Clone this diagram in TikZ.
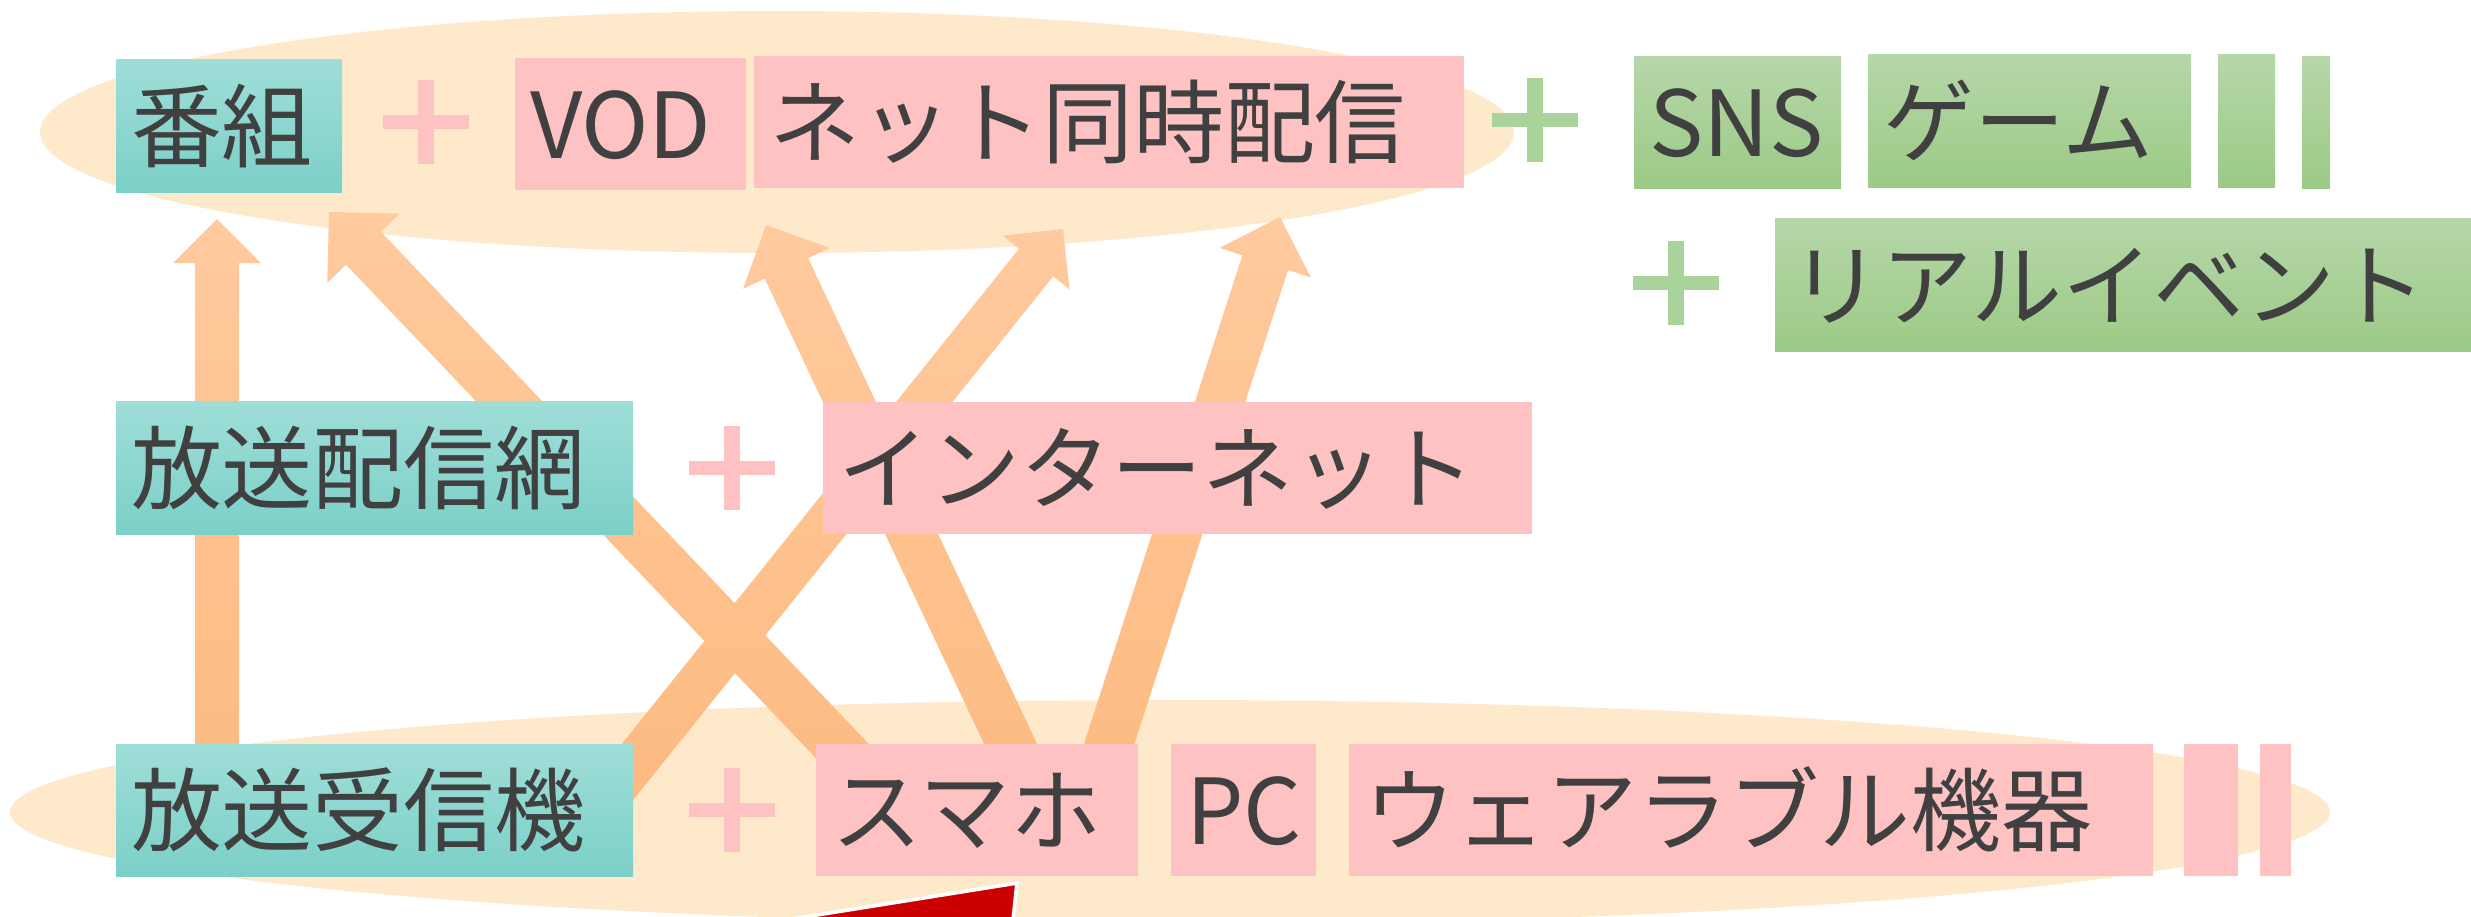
\documentclass[tikz,border=0pt]{standalone}
\usepackage{fontspec}
\setmainfont{Noto Sans CJK JP}
\usetikzlibrary{calc}
\definecolor{ell}{HTML}{FFE9CB}
\definecolor{tealA}{HTML}{9FDED8}
\definecolor{tealB}{HTML}{7BD0C8}
\definecolor{pinkbox}{HTML}{FFC2C2}
\definecolor{greenA}{HTML}{B6D7A9}
\definecolor{greenB}{HTML}{9CCA86}
\definecolor{plusgreen}{HTML}{A9D39A}
\definecolor{arrA}{HTML}{FFCA9E}
\definecolor{arrB}{HTML}{FDBA80}
\definecolor{txt}{HTML}{404040}
\definecolor{redshape}{HTML}{CC0000}
\pgfdeclarelayer{bg}\pgfdeclarelayer{mid}\pgfsetlayers{bg,mid,main}
% start, tip, half shaft, half head, head length
\newcommand\blockarrow[5]{%
  \coordinate (#1H) at ($(#2)!#5!(#1)$);
  \shade[arrowstyle]
    ($(#1)!#3!90:(#2)$) --
    ($(#1H)!#3!-90:(#1)$) --
    ($(#1H)!#4!-90:(#1)$) --
    (#2) --
    ($(#1H)!#4!90:(#1)$) --
    ($(#1H)!#3!90:(#1)$) --
    ($(#1)!#3!-90:(#2)$) -- cycle;}
% name, x1, y1, x2, y2, style, text
\newcommand\bx[7]{%
  \node[#6, anchor=north west, minimum width={(#4-#2)*0.3pt},
        minimum height={(#5-#3)*0.3pt}, text width={(#4-#2-30)*0.3pt}] (#1) at (#2,#3) {#7};}
\newcommand\barnode[6]{%
  \node[#6, anchor=north west, inner sep=0pt, minimum width={(#4-#2)*0.3pt},
        minimum height={(#5-#3)*0.3pt}] (#1) at (#2,#3) {};}
\newcommand\plussign[3]{%
  \fill[#3] (#1-8,#2-42) rectangle (#1+8,#2+42);
  \fill[#3] (#1-43,#2-7) rectangle (#1+43,#2+7);}
\begin{document}
\begin{tikzpicture}[x=0.3pt,y=-0.3pt,
  arrowstyle/.style={top color=arrA, bottom color=arrB},
  boxbase/.style={inner xsep=4.5pt, inner ysep=0pt, outer sep=0pt, align=left,
     text=txt, font=\fontsize{27.3pt}{32pt}\selectfont,
     text height=24pt, text depth=3.3pt},
  tealbox/.style={boxbase, top color=tealA, bottom color=tealB},
  pinkbx/.style={boxbase, fill=pinkbox},
  greenbox/.style={boxbase, top color=greenA, bottom color=greenB},
  pinkbarst/.style={fill=pinkbox, outer sep=0pt},
  greenbarst/.style={top color=greenA, bottom color=greenB, outer sep=0pt}]
\useasboundingbox (0,0) rectangle (2471,916);
\begin{pgfonlayer}{bg}
  \fill[ell] (777,132) ellipse [x radius=221.1pt, y radius=36.3pt];
  \fill[ell] (1170,812) ellipse [x radius=348pt, y radius=33.6pt];
\end{pgfonlayer}

% boxes
\bx{bangumi}{116}{59}{342}{192}{tealbox}{番組}
\bx{haishinmo}{116}{401}{633}{534}{tealbox}{放送配信網}
\bx{jushinki}{116}{744}{633}{876}{tealbox}{放送受信機}
\bx{vod}{515}{58}{746}{190}{pinkbx}{VOD}
\bx{simul}{754}{56}{1464}{188}{pinkbx}{ネット同時配信}
\bx{inet}{823}{402}{1532}{534}{pinkbx}{インターネット}
\bx{sumaho}{816}{744}{1138}{876}{pinkbx}{スマホ}
\bx{pc}{1171}{744}{1316}{876}{pinkbx}{PC}
\bx{wear}{1349}{744}{2153}{876}{pinkbx}{ウェアラブル機器}
\barnode{pbarA}{2184}{744}{2238}{876}{pinkbarst}
\barnode{pbarB}{2260}{744}{2291}{876}{pinkbarst}
\bx{sns}{1634}{56}{1841}{188}{greenbox}{SNS}
\bx{game}{1868}{54}{2191}{187}{greenbox}{ゲーム}
\barnode{gbarA}{2218}{54}{2275}{187}{greenbarst}
\barnode{gbarB}{2302}{56}{2330}{188}{greenbarst}
\bx{real}{1775}{218}{2471}{351}{greenbox}{リアルイベント}

% arrows
\coordinate (a1s) at (217,800); \coordinate (a1t) at (217,219);
\coordinate (a2s) at (889,800); \coordinate (a2t) at (329,212);
\coordinate (a3s) at (605,800); \coordinate (a3t) at (1063,229);
\coordinate (a4s) at (1037,800); \coordinate (a4t) at (766,225);
\coordinate (a5s) at (1091,800); \coordinate (a5t) at (1280,217);
\begin{pgfonlayer}{mid}
  \blockarrow{a1s}{a1t}{6.6pt}{13.2pt}{13.2pt}
  \blockarrow{a2s}{a2t}{7.2pt}{15pt}{15pt}
  \blockarrow{a3s}{a3t}{6.6pt}{12.9pt}{12.9pt}
  \blockarrow{a4s}{a4t}{7.2pt}{14.4pt}{14.4pt}
  \blockarrow{a5s}{a5t}{7.2pt}{14.4pt}{14.4pt}
\end{pgfonlayer}

% plus signs
\plussign{426}{122}{pinkbox}
\plussign{1535}{120}{plusgreen}
\plussign{1676}{283}{plusgreen}
\plussign{732}{468}{pinkbox}
\plussign{732}{810}{pinkbox}

% red shape at the bottom edge
\fill[redshape, draw=white, line width=1.1pt] (723,930) -- (1017,883) -- (1012,930) -- cycle;
\end{tikzpicture}
\end{document}
